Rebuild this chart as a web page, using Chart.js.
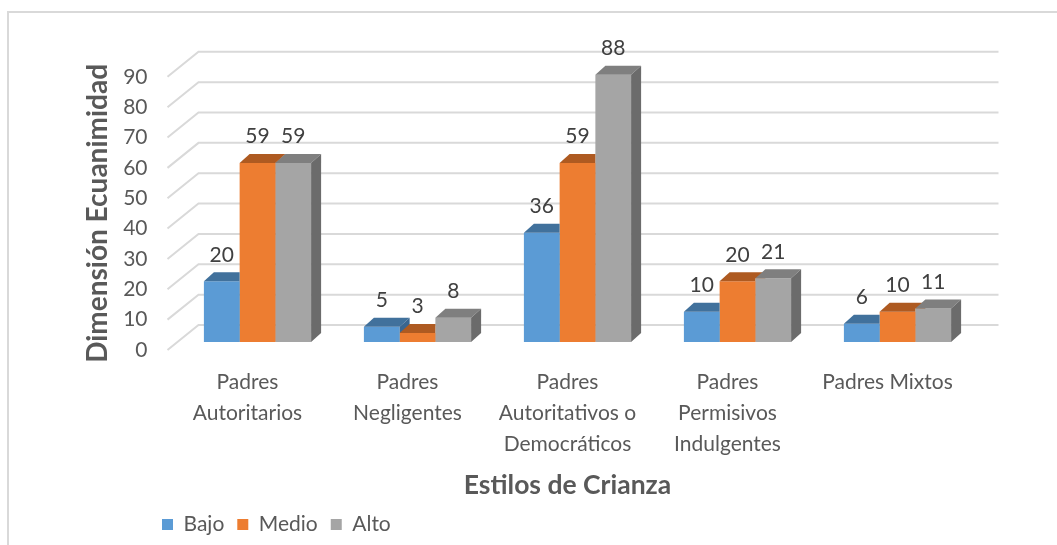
<!DOCTYPE html>
<html><head><meta charset="utf-8">
<script src="https://cdn.jsdelivr.net/npm/chart.js@4.4.1/dist/chart.umd.min.js"></script>
<style>html,body{margin:0;padding:0;background:#fff;}</style>
</head><body>
<canvas id="c" width="1057" height="545"></canvas>
<script>
// ---- data ----
const categories = [["Padres","Autoritarios"],["Padres","Negligentes"],["Padres","Autoritativos o","Democráticos"],["Padres","Permisivos","Indulgentes"],"Padres Mixtos"];
const seriesNames = ["Bajo","Medio","Alto"];
const bajo  = [20, 5, 36, 10, 6];
const medio = [59, 3, 59, 20, 10];
const alto  = [59, 8, 88, 21, 11];
const yTickStep = 10;
const yMin = 0, yMax = 90;
const xTitle = "Estilos de Crianza";
const yTitle = "Dimensión Ecuanimidad";

// ---- style ----
const FONT = 'Lato';
const frontColors = ['#5b9bd5','#ed7d31','#a5a5a5'];
const topColors   = ['#41719c','#ae5a21','#7f7f7f'];
const sideColors  = ['#3a6690','#9a4f1c','#6b6b6b'];
const DEPTH = {dx:10, dy:-9};   // bar depth
const WALL  = {dx:31, dy:-25};  // back wall offset from front plane
const SHIFT = {dx:10, dy:-8};   // bar front plane offset from front plane

function barBox(bar){
  const p = bar.getProps(['x','y','base','width'], true);
  return {l: p.x - p.width/2, r: p.x + p.width/2, y: p.y, base: p.base, x: p.x};
}

const threeD = {
  id:'threeD',
  beforeDraw(chart){
    const c = chart.ctx; c.save();
    c.strokeStyle = '#d9d9d9'; c.lineWidth = 2;
    c.strokeRect(8, 12, 1200, 700);
    c.restore();
  },
  afterLayout(chart){
    const lg = chart.legend; if (!lg) return;
    const d = 149 - lg.left; lg.left += d; lg.right += d;
  },
  beforeDatasetsDraw(chart){
    const {ctx, chartArea:a, scales:{y}} = chart;
    ctx.save();
    ctx.strokeStyle = '#d9d9d9'; ctx.lineWidth = 2;
    y.ticks.forEach(t => {
      const py = y.getPixelForValue(t.value);
      ctx.beginPath();
      ctx.moveTo(a.left, py);
      ctx.lineTo(a.left + WALL.dx, py + WALL.dy);
      ctx.lineTo(a.right + WALL.dx, py + WALL.dy);
      ctx.stroke();
    });
    ctx.restore();
    ctx.save();
    ctx.translate(SHIFT.dx, SHIFT.dy);
  },
  afterDatasetsDraw(chart){
    const ctx = chart.ctx;
    const n = chart.data.datasets.length;
    const metas = chart.data.datasets.map((d, i) => chart.getDatasetMeta(i));
    const nCat = chart.data.labels.length;
    for (let j = 0; j < nCat; j++) {
      for (let i = 0; i < n; i++) {
        const b = barBox(metas[i].data[j]);
        ctx.save();
        // exclude the front face of the right neighbour (it is in front)
        if (i + 1 < n) {
          const nb = barBox(metas[i+1].data[j]);
          ctx.beginPath();
          ctx.rect(-50, -50, 2000, 2000);
          ctx.rect(nb.l, nb.y, nb.r - nb.l + 0.5, nb.base - nb.y + 2);
          ctx.clip('evenodd');
        }
        ctx.fillStyle = topColors[i];
        ctx.beginPath();
        ctx.moveTo(b.l, b.y); ctx.lineTo(b.r, b.y);
        ctx.lineTo(b.r + DEPTH.dx, b.y + DEPTH.dy); ctx.lineTo(b.l + DEPTH.dx, b.y + DEPTH.dy);
        ctx.closePath(); ctx.fill();
        ctx.fillStyle = sideColors[i];
        ctx.beginPath();
        ctx.moveTo(b.r, b.y); ctx.lineTo(b.r + DEPTH.dx, b.y + DEPTH.dy);
        ctx.lineTo(b.r + DEPTH.dx, b.base + DEPTH.dy); ctx.lineTo(b.r, b.base);
        ctx.closePath(); ctx.fill();
        ctx.restore();
      }
    }
    ctx.font = '21px ' + FONT;
    ctx.fillStyle = '#404040';
    ctx.textAlign = 'center'; ctx.textBaseline = 'middle';
    chart.data.datasets.forEach((ds, i) => {
      metas[i].data.forEach((bar, j) => {
        ctx.fillText(String(ds.data[j]), bar.x, bar.y - 26.5);
      });
    });
    ctx.restore();
  }
};

new Chart(document.getElementById('c'), {
  type: 'bar',
  data: {
    labels: categories,
    datasets: [
      {label: seriesNames[0], data: bajo,  backgroundColor: frontColors[0]},
      {label: seriesNames[1], data: medio, backgroundColor: frontColors[1]},
      {label: seriesNames[2], data: alto,  backgroundColor: frontColors[2]}
    ]
  },
  options: {
    responsive: false, animation: false, devicePixelRatio: 1,
    layout: {padding: {left: 20, right: 89.5, top: 76.8, bottom: 0}},
    datasets: {bar: {categoryPercentage: 0.67, barPercentage: 1, borderWidth: 0}},
    scales: {
      x: {
        grid: {display: false, drawTicks: false}, border: {display: false},
        ticks: {font: {family: FONT, size: 21, lineHeight: 1.48}, color: '#595959', padding: 16.5, maxRotation: 0, autoSkip: false},
        title: {display: true, text: xTitle, font: {family: FONT, size: 26.5, weight: 'bold'}, color: '#595959', padding: 0},
        afterFit(s){ s.height = 151; }
      },
      y: {
        min: yMin, max: yMax,
        grid: {display: false, drawTicks: false}, border: {display: false},
        ticks: {stepSize: yTickStep, font: {family: FONT, size: 21}, color: '#595959', padding: 20},
        title: {display: true, text: yTitle, font: {family: FONT, size: 28, weight: 'bold'}, color: '#595959', padding: {top: 61, bottom: 0}},
        afterFit(s){ s.width = 147.5; }
      }
    },
    plugins: {
      legend: {
        position: 'bottom', align: 'start',
        labels: {boxWidth: 11, boxHeight: 11, padding: 13, font: {family: FONT, size: 21}, color: '#595959'}
      },
      tooltip: {enabled: false}
    }
  },
  plugins: [threeD]
});
</script>
</body></html>
